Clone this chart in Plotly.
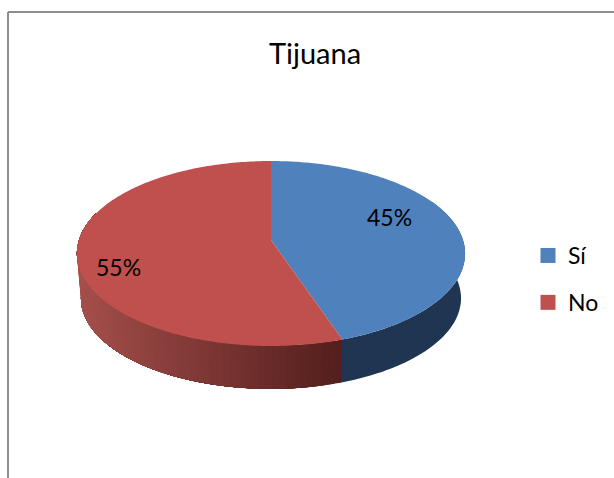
import numpy as np
import plotly.graph_objects as go

title = "Tijuana"
categories = ["Sí", "No"]
values = [45, 55]
colors = ["#4F81BD", "#C0504D"]
wall_blue = "#1F3552"

W, H = 614, 478
CX = 271
K = 0.146
TOP = dict(cy=240, rx=192, ry=90.5)
BOT = dict(cy=285, rx=188, ry=88.7)
# the source chart's 3-D view is turned very slightly clockwise at the front
FRONT_TURN = -0.012


def rim(theta, f):
    """Project a circle point (clockwise from 12 o'clock) with perspective."""
    u, v = np.sin(theta), -np.cos(theta)
    d = 1 - K * v
    return CX + f["rx"] * u / d, f["cy"] + f["ry"] * v / d


shares = np.array(values) / sum(values) * 2 * np.pi
edges = np.concatenate([[0], np.cumsum(shares)])
edges[1] += FRONT_TURN
fig = go.Figure()


def poly(x, y, color):
    fig.add_trace(go.Scatter(x=list(x), y=list(y), mode="none", fill="toself", fillcolor=color,
                             hoverinfo="skip", showlegend=False))


# side wall of first slice (flat dark)
t = np.linspace(np.pi * 0.35, edges[1] + 0.02, 60)
xt, yt = rim(t, TOP)
xb, yb = rim(t, BOT)
poly(np.r_[xt, xb[::-1]], np.r_[yt, yb[::-1]], wall_blue)

# side wall of second slice, shaded in strips painted over one another
END = np.pi * 1.6
strips = np.linspace(edges[1], END, 70)
x_dark = rim(edges[1], BOT)[0]
x_light = 80
for i, a in enumerate(strips[:-1]):
    t = np.linspace(a, END, 80)
    xt, yt = rim(t, TOP)
    xb, yb = rim(t, BOT)
    xm = rim(a, BOT)[0]
    s = np.clip((xm - x_light) / (x_dark - x_light), 0, 1)
    c = np.array([166, 80, 76]) * (1 - s) + np.array([84, 31, 29]) * s
    poly(np.r_[xt, xb[::-1]], np.r_[yt, yb[::-1]], "rgb(%d,%d,%d)" % tuple(c))

# top faces
for i, col in enumerate(colors):
    t = np.linspace(edges[i], edges[i + 1], 200)
    x, y = rim(t, TOP)
    poly(np.r_[CX, x, CX], np.r_[TOP["cy"], y, TOP["cy"]], col)

# legend entries
for name, col in zip(categories, colors):
    fig.add_trace(go.Scatter(x=[None], y=[None], mode="markers", name=name, legendgroup=name,
                             marker=dict(symbol="square", size=15, color=col, line=dict(width=0))))

label_pos = [(389.5, 217), (118.5, 267)]
annotations = [dict(x=p[0], y=p[1], xref="x", yref="y", text=f"{v}%", showarrow=False,
                    font=dict(family="Lato", size=23, color="#000000"))
               for p, v in zip(label_pos, values)]

frame = dict(color="#8E8E8E", width=2)
fig.update_layout(
    width=W, height=H, margin=dict(l=0, r=0, t=0, b=0),
    paper_bgcolor="white", plot_bgcolor="white",
    xaxis=dict(range=[0, W], visible=False, fixedrange=True),
    yaxis=dict(range=[H, 0], visible=False, fixedrange=True),
    title=dict(text=title, x=315 / W, xanchor="center", y=1 - 54 / H, yanchor="middle",
               font=dict(family="Lato", size=29, color="#000000")),
    legend=dict(x=528 / W, xanchor="left", y=1 - 234 / H, yanchor="top", tracegroupgap=14,
                font=dict(family="Lato", size=23, color="#000000"), bgcolor="rgba(0,0,0,0)",
                itemclick=False, itemdoubleclick=False),
    annotations=annotations,
    shapes=[dict(type="line", x0=8, x1=W, y0=12, y1=12, xref="x", yref="y", line=frame),
            dict(type="line", x0=8, x1=8, y0=12, y1=H, xref="x", yref="y", line=frame)],
)
fig.write_html("out.html", config=dict(displayModeBar=False),
               post_script="document.body.style.margin='0';document.body.style.overflow='hidden';window.dispatchEvent(new Event('resize'));")
